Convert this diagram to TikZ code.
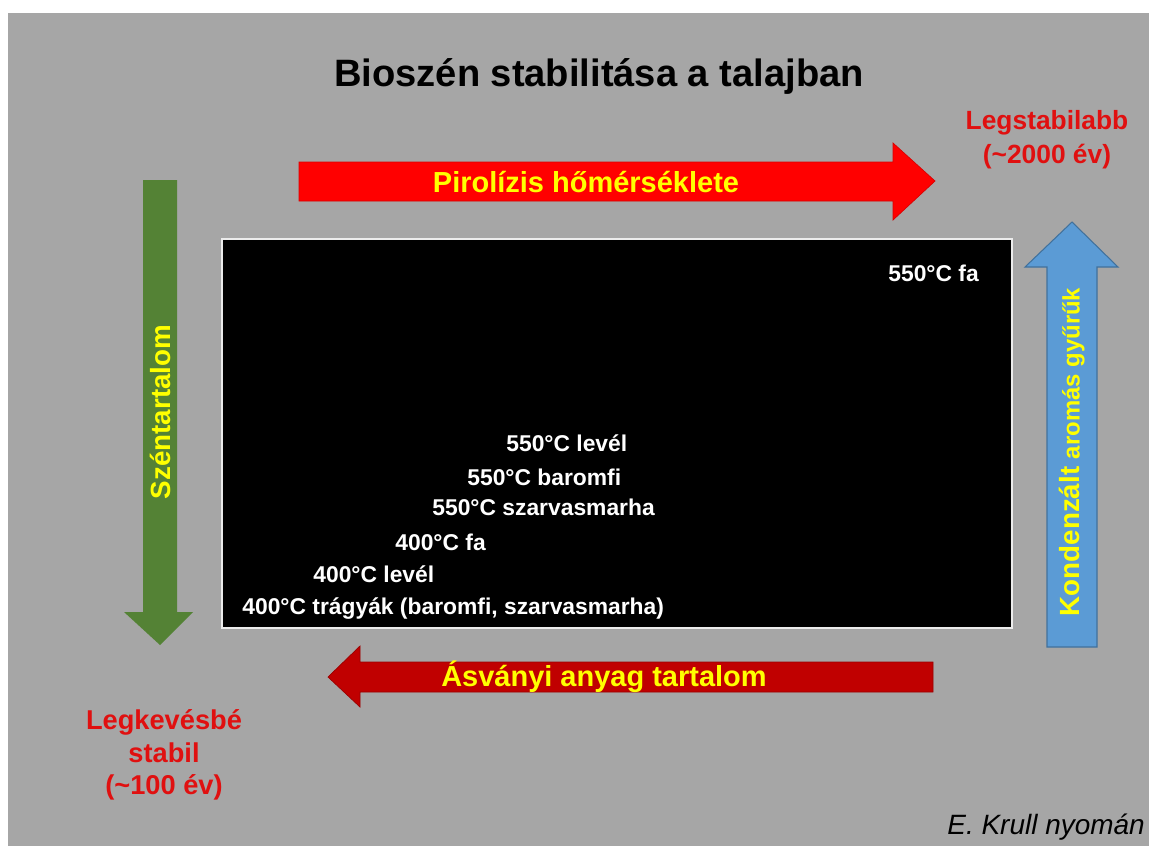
\documentclass[tikz,border=0pt]{standalone}
\usepackage{fontspec}
\setmainfont{Liberation Sans}
\definecolor{slide}{RGB}{166,166,166}
\definecolor{carbongreen}{RGB}{84,130,53}
\definecolor{ringblue}{RGB}{91,155,213}
\definecolor{ringedge}{RGB}{65,113,156}
\definecolor{mineralred}{RGB}{192,0,0}
\definecolor{labelred}{RGB}{224,16,16}
\definecolor{lblyellow}{RGB}{255,255,0}
\begin{document}
\begin{tikzpicture}[x=0.02cm,y=-0.02cm]
\tikzstyle{arrowlbl}=[text=lblyellow, font=\bfseries\fontsize{16.5}{19}\selectfont, inner sep=0pt]
\tikzstyle{boxlbl}=[text=white, anchor=west, inner sep=0pt, font=\bfseries\fontsize{13}{15}\selectfont]
\tikzstyle{agelbl}=[text=labelred, align=center, inner sep=0pt]
\useasboundingbox (0,0) rectangle (1149,846);
\fill[white] (0,0) rectangle (1149,846);
\fill[slide] (8,13) rectangle (1149,846);
% title
\node[font=\bfseries\fontsize{21.7}{25}\selectfont, inner sep=0pt] (title) at (599,76) {Bioszén stabilitása a talajban};
% arrows
\filldraw[fill=red, draw=red!85!black, line width=0.4pt] (299,162) -- (893,162) -- (893,143) -- (935,181) -- (893,220) -- (893,201) -- (299,201) -- cycle;
\fill[carbongreen] (143,180) -- (177,180) -- (177,612) -- (193,612) -- (160,645) -- (124,612) -- (143,612) -- cycle;
\filldraw[fill=ringblue, draw=ringedge, line width=0.6pt] (1047,647) -- (1047,267) -- (1025,267) -- (1072,222) -- (1118,267) -- (1097,267) -- (1097,647) -- cycle;
\filldraw[fill=mineralred, draw=mineralred!80!black, line width=0.4pt] (933,662) -- (360,662) -- (360,646) -- (328,677) -- (360,707) -- (360,692) -- (933,692) -- cycle;
\node[arrowlbl] (pyro) at (586,182) {Pirolízis hőmérséklete};
\node[arrowlbl] (mineral) at (604,677) {Ásványi anyag tartalom};
\node[arrowlbl, font=\bfseries\fontsize{15.8}{18}\selectfont, rotate=90] (carbon) at (160,412) {Széntartalom};
\node[arrowlbl, font=\bfseries\fontsize{15.8}{18}\selectfont, rotate=90] (rings) at (1072,452) {Kondenzált {\fontsize{13.6}{15}\selectfont aromás gyűrűk}};
% black box
\filldraw[fill=black, draw=white!85!gray, line width=0.6pt] (222,239) rectangle (1012,628);
\node[boxlbl] (w550) at (888,273) {550°C fa};
\node[boxlbl] (l550) at (506,443) {550°C levél};
\node[boxlbl] (p550) at (467,477) {550°C baromfi};
\node[boxlbl] (c550) at (432,507) {550°C szarvasmarha};
\node[boxlbl] (w400) at (395,542) {400°C fa};
\node[boxlbl] (l400) at (313,574) {400°C levél};
\node[boxlbl] (m400) at (242,609) {400°C trágyák (baromfi, szarvasmarha)};
% ends of the scale
\node[agelbl, font=\bfseries\fontsize{15}{19.3}\selectfont] (most) at (1047,140) {Legstabilabb\\(\textasciitilde 2000 év)};
\node[agelbl, font=\bfseries\fontsize{15.5}{18.5}\selectfont] (least) at (164,755) {Legkevésbé\\stabil\\(\textasciitilde 100 év)};
\node[font=\itshape\fontsize{15.9}{18}\selectfont, anchor=east, inner sep=0pt] (src) at (1145,827) {E. Krull nyomán};
\end{tikzpicture}
\end{document}
